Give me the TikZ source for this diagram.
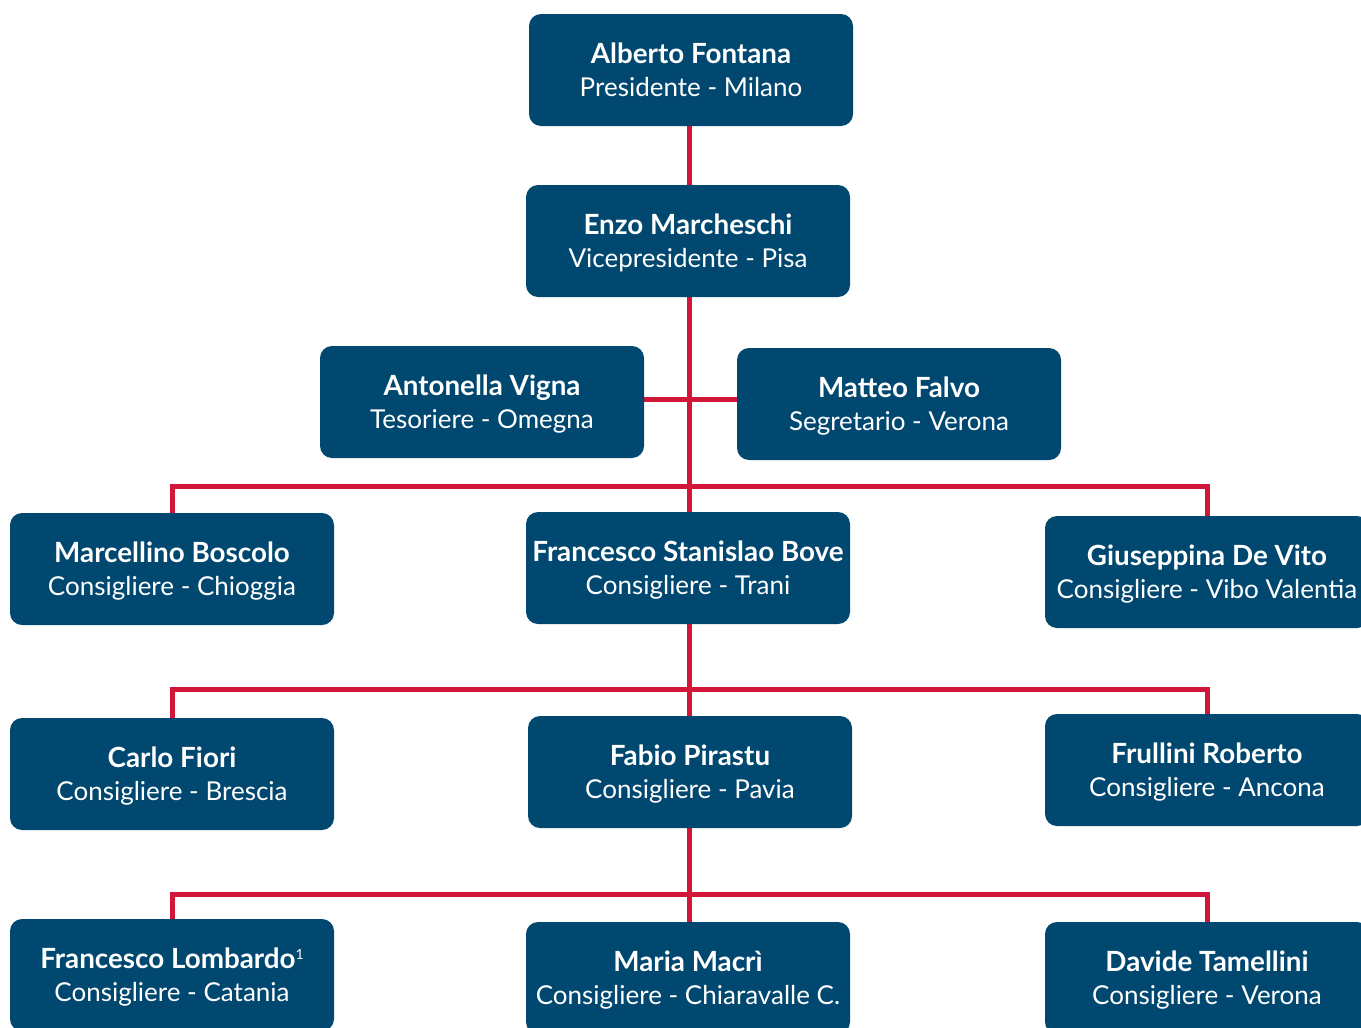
\documentclass[tikz,border=0pt]{standalone}
\usepackage{fontspec}
\setmainfont{Lato}
\usetikzlibrary{backgrounds}
\definecolor{boxblue}{RGB}{0,72,112}
\definecolor{linkred}{RGB}{210,22,56}
\newcommand{\member}[2]{{\fontsize{27.8}{33}\selectfont\bfseries #1}\\{\fontsize{26}{33}\selectfont #2}}
\newcommand{\footmark}[1]{\raisebox{9pt}{\fontsize{14}{14}\selectfont\mdseries #1}}
\begin{document}
\begin{tikzpicture}[x=1pt,y=-1pt,
    person/.style={draw=none,fill=boxblue,text=white,rounded corners=12pt,
        minimum width=324pt,minimum height=112pt,inner sep=0pt,align=center,
        text depth=0pt,execute at begin node={\setlength{\baselineskip}{33pt}}},
    link/.style={draw=linkred,line width=5pt}]

    \useasboundingbox (0,0) rectangle (1361,1028);

    \node[person] (A) at (691,70) {\member{Alberto Fontana}{Presidente - Milano}};
    \node[person] (B) at (688,241) {\member{Enzo Marcheschi}{Vicepresidente - Pisa}};

    \node[person] (C) at (482,402) {\member{Antonella Vigna}{Tesoriere - Omegna}};
    \node[person] (D) at (899,404) {\member{Matteo Falvo}{Segretario - Verona}};

    \node[person] (E1) at (172,569) {\member{Marcellino Boscolo}{Consigliere - Chioggia}};
    \node[person] (E2) at (688,568) {\member{Francesco Stanislao Bove}{Consigliere - Trani}};
    \node[person] (E3) at (1207,572) {\member{Giuseppina De Vito}{Consigliere - Vibo Valentia}};

    \node[person] (F1) at (172,774) {\member{Carlo Fiori}{Consigliere - Brescia}};
    \node[person] (F2) at (690,772) {\member{Fabio Pirastu}{Consigliere - Pavia}};
    \node[person] (F3) at (1207,770) {\member{Frullini Roberto}{Consigliere - Ancona}};

    \node[person] (G1) at (172,975) {\member{Francesco Lombardo\footmark{1}}{Consigliere - Catania}};
    \node[person] (G2) at (688,978) {\member{Maria Macrì}{Consigliere - Chiaravalle C.}};
    \node[person] (G3) at (1207,978) {\member{Davide Tamellini}{Consigliere - Verona}};

    \coordinate (mid) at (689,399);
    \coordinate (bar1) at (689,486);
    \coordinate (bar2) at (689,689);
    \coordinate (bar3) at (689,894);

    \begin{scope}[on background layer]
    \draw[link] (A.south -| mid) -- (E2.north -| mid);
    \draw[link] (C.east |- mid) -- (D.west |- mid);

    \draw[link] (E1.north) |- (bar1) -| (E3.north);
    \draw[link] (E2.south -| bar2) -- (F2.north -| bar2);
    \draw[link] (F1.north) |- (bar2) -| (F3.north);
    \draw[link] (F2.south -| bar3) -- (G2.north -| bar3);
    \draw[link] (G1.north) |- (bar3) -| (G3.north);
    \end{scope}

\end{tikzpicture}
\end{document}
